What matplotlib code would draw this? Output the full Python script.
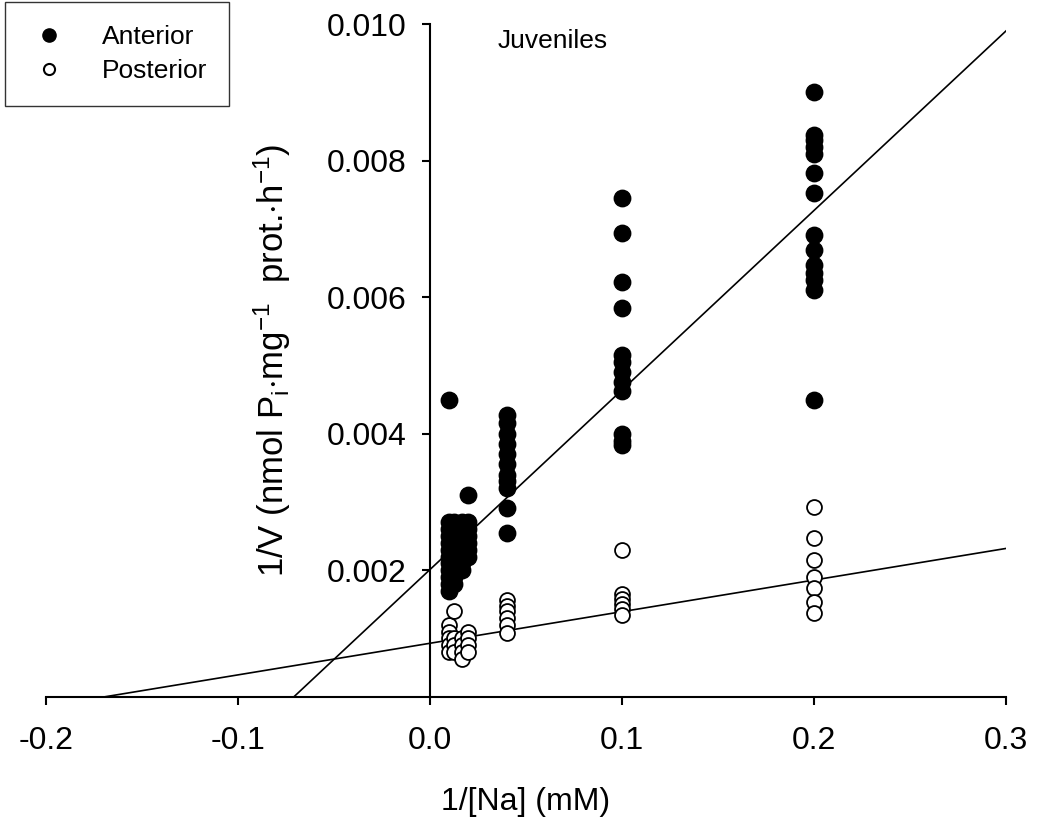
import numpy as np
import matplotlib
matplotlib.use("Agg")
import matplotlib.pyplot as plt
from matplotlib.lines import Line2D

plt.rcParams['font.family'] = ['Liberation Sans', 'DejaVu Sans']
plt.rcParams['mathtext.fontset'] = 'custom'
plt.rcParams['mathtext.rm'] = 'Liberation Sans'
plt.rcParams['mathtext.it'] = 'Liberation Sans'

# 1/[Na] columns (100, 80, 60, 50, 25, 10, 5 mM)
ant_x = [0.01]*12 + [0.0125]*10 + [0.0167]*8 + [0.02]*7 + [0.04]*11 + [0.1]*12 + [0.2]*14
ant_y = [0.0045, 0.0027, 0.0026, 0.0025, 0.0024, 0.0023, 0.0022, 0.0021, 0.0020, 0.0019, 0.0018, 0.0017,
         0.0027, 0.0026, 0.0025, 0.0024, 0.0023, 0.0022, 0.0021, 0.0020, 0.0019, 0.0018,
         0.0027, 0.0026, 0.0025, 0.0024, 0.0023, 0.0022, 0.0021, 0.0020,
         0.0031, 0.0027, 0.0026, 0.0025, 0.0024, 0.0023, 0.0022,
         0.00427, 0.00415, 0.00400, 0.00385, 0.00370, 0.00355, 0.00340, 0.00330, 0.00320, 0.00291, 0.00254,
         0.00745, 0.00694, 0.00622, 0.00584, 0.00515, 0.00505, 0.00490, 0.00475, 0.00462, 0.00400, 0.00390, 0.00383,
         0.00900, 0.00838, 0.00830, 0.00820, 0.00810, 0.00782, 0.00752, 0.00691, 0.00669, 0.00647, 0.00636,
         0.00625, 0.00610, 0.0045]

post_x = [0.01]*5 + [0.0125]*4 + [0.0167]*4 + [0.02]*4 + [0.04]*6 + [0.1]*6 + [0.2]*7
post_y = [0.0012, 0.0011, 0.0010, 0.0009, 0.0008,
          0.0014, 0.0010, 0.0009, 0.0008,
          0.0010, 0.0009, 0.0008, 0.0007,
          0.0011, 0.0010, 0.0009, 0.0008,
          0.00156, 0.00147, 0.00140, 0.00130, 0.00120, 0.00108,
          0.00229, 0.00165, 0.00158, 0.00150, 0.00143, 0.00135,
          0.00292, 0.00247, 0.00215, 0.00190, 0.00174, 0.00153, 0.00137]

# Lineweaver-Burk fits (intercept, slope)
ant_fit = (0.00201, 0.0263)
post_fit = (0.00093, 0.00463)

x_ticks = [-0.2, -0.1, 0.0, 0.1, 0.2, 0.3]
y_ticks = [0.002, 0.004, 0.006, 0.008, 0.010]

fig = plt.figure(figsize=(10.38, 8.30), dpi=100)
ax = fig.add_axes([0.0443, 0.160, 0.9249, 0.811])

xl = np.array([-0.2, 0.3])
ax.plot(xl, ant_fit[0] + ant_fit[1]*xl, color='black', lw=1.2, zorder=2)
ax.plot(xl, post_fit[0] + post_fit[1]*xl, color='black', lw=1.2, zorder=2)

ax.scatter(ant_x, ant_y, s=140, color='black', edgecolors='black', linewidths=1.0, zorder=3)
ax.scatter(post_x, post_y, s=115, facecolors='white', edgecolors='black', linewidths=1.3, zorder=4)

ax.set_xlim(-0.2, 0.3)
ax.set_ylim(0.00014, 0.010)

# y axis sits at x = 0
ax.spines['left'].set_position(('data', 0))
ax.spines['top'].set_visible(False)
ax.spines['right'].set_visible(False)
for s in ['left', 'bottom']:
    ax.spines[s].set_linewidth(1.5)

ax.set_xticks(x_ticks)
ax.set_xticklabels(['%.1f' % v for v in x_ticks])
ax.set_yticks(y_ticks)
ax.set_yticklabels(['%.3f' % v for v in y_ticks])
ax.tick_params(direction='out', length=6, width=1.5, labelsize=23)
ax.tick_params(axis='x', pad=15)
ax.tick_params(axis='y', pad=11)

ax.set_xlabel('1/[Na] (mM)', fontsize=23, labelpad=22)
ax.set_ylabel(r'1/V (nmol P$_\mathregular{i}$$\cdot$mg$^{\mathregular{-1}}$  prot.$\cdot$h$^{\mathregular{-1}}$)',
              fontsize=25, labelpad=24)

ax.text(0.035, 0.00993, 'Juveniles', fontsize=19, ha='left', va='top')

handles = [Line2D([], [], ls='none', marker='o', color='black', markersize=9.5),
           Line2D([], [], ls='none', marker='o', markerfacecolor='white', markeredgecolor='black',
                  markeredgewidth=1.5, markersize=8)]
leg = fig.legend(handles, ['Anterior', 'Posterior'], loc='upper left', bbox_to_anchor=(0.005, 0.997),
                 fontsize=19, frameon=True, fancybox=False, edgecolor='black', borderpad=0.85,
                 handletextpad=1.2, handlelength=1.6, labelspacing=0.4, borderaxespad=0)
leg.get_frame().set_linewidth(1.0)

fig.savefig('out.png', dpi=100)
